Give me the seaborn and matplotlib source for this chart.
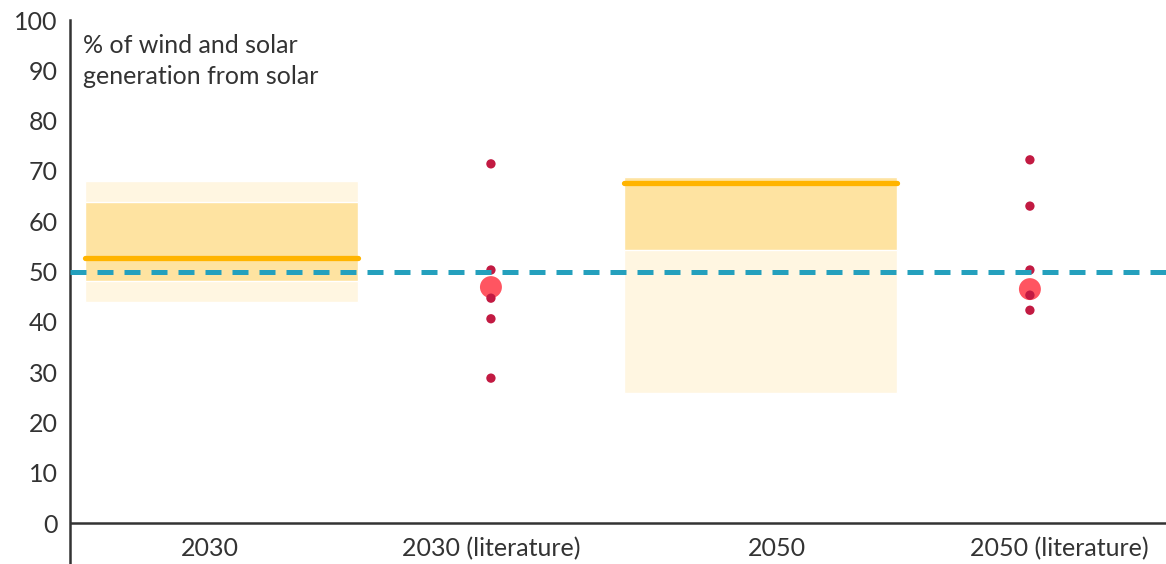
import matplotlib
matplotlib.use("Agg")
import matplotlib.pyplot as plt
import seaborn as sns
import pandas as pd

# Scenario ranges (% of wind+solar generation that comes from solar)
scenarios = ["2030", "2050"]
scenario_pos = [0, 2]
outer_low = [44.0, 25.8]
outer_high = [68.0, 68.8]
inner_low = [48.1, 54.3]
inner_high = [63.8, 68.8]
median = [52.7, 67.6]

# Literature estimates
lit_2030 = [71.4, 50.3, 44.7, 40.6, 28.8]
lit_2050 = [72.2, 63.0, 50.3, 45.3, 42.3]
lit_mean = [46.9, 46.5]
lit_pos = [1, 3]

categories = ["2030", "2030 (literature)", "2050", "2050 (literature)"]
parity = 50

sns.set_theme(style="white")
plt.rcParams["font.family"] = ["Lato", "DejaVu Sans"]

fig = plt.figure(figsize=(11.66, 5.64), dpi=100)
ax = fig.add_axes([70 / 1166, 0.0, 1 - 70 / 1166, 1 - 20 / 564])

text_col = "#333333"
box_w = 1.013
fs = 18

# shaded ranges
ax.bar(scenario_pos, [h - l for h, l in zip(outer_high, outer_low)], bottom=outer_low,
       width=box_w, color="#FFF6E1", zorder=1)
ax.bar(scenario_pos, [h - l for h, l in zip(inner_high, inner_low)], bottom=inner_low,
       width=box_w, color="#FEE3A1", zorder=2)
for x, m in zip(scenario_pos, median):
    ax.plot([x - box_w / 2, x + box_w / 2], [m, m], color="#FFB400", lw=3.8,
            solid_capstyle="round", zorder=3)

# 50% reference line
ax.axhline(parity, color="#24A0BD", lw=3.6, ls=(0, (3.2, 2.2)), zorder=4)

# literature points
pts = pd.DataFrame({
    "x": [lit_pos[0]] * len(lit_2030) + [lit_pos[1]] * len(lit_2050),
    "y": lit_2030 + lit_2050,
})
means = pd.DataFrame({"x": lit_pos, "y": lit_mean})
sns.scatterplot(data=means, x="x", y="y", ax=ax, s=250, color="#FF5561",
                edgecolor="none", zorder=3, legend=False)
sns.scatterplot(data=pts, x="x", y="y", ax=ax, s=45, color="#C21A42",
                edgecolor="none", zorder=3.5, legend=False)

# axes styling
ax.axhline(0, color=text_col, lw=1.8, zorder=5)
ax.set_xlim(-0.562, 3.505)
ax.set_ylim(-8.15, 100)
ax.set_yticks(range(0, 101, 10))
ax.set_yticklabels([str(v) for v in range(0, 101, 10)], fontsize=fs, color=text_col)
ax.set_xticks([])
ax.set_xlabel("")
ax.set_ylabel("")
ax.tick_params(axis="y", length=0, pad=9)
for s in ["top", "right", "bottom"]:
    ax.spines[s].set_visible(False)
ax.spines["left"].set_color(text_col)
ax.spines["left"].set_linewidth(1.8)

label_x = [-0.043, 1.0, 2.061, 3.108]
for x, lab in zip(label_x, categories):
    ax.text(x, -5.0, lab, ha="center", va="center", fontsize=fs, color=text_col)

ax.text(-0.513, 97.3, "% of wind and solar\ngeneration from solar", ha="left", va="top",
        fontsize=fs, color=text_col, linespacing=1.42)

fig.savefig("out.png", dpi=100)
